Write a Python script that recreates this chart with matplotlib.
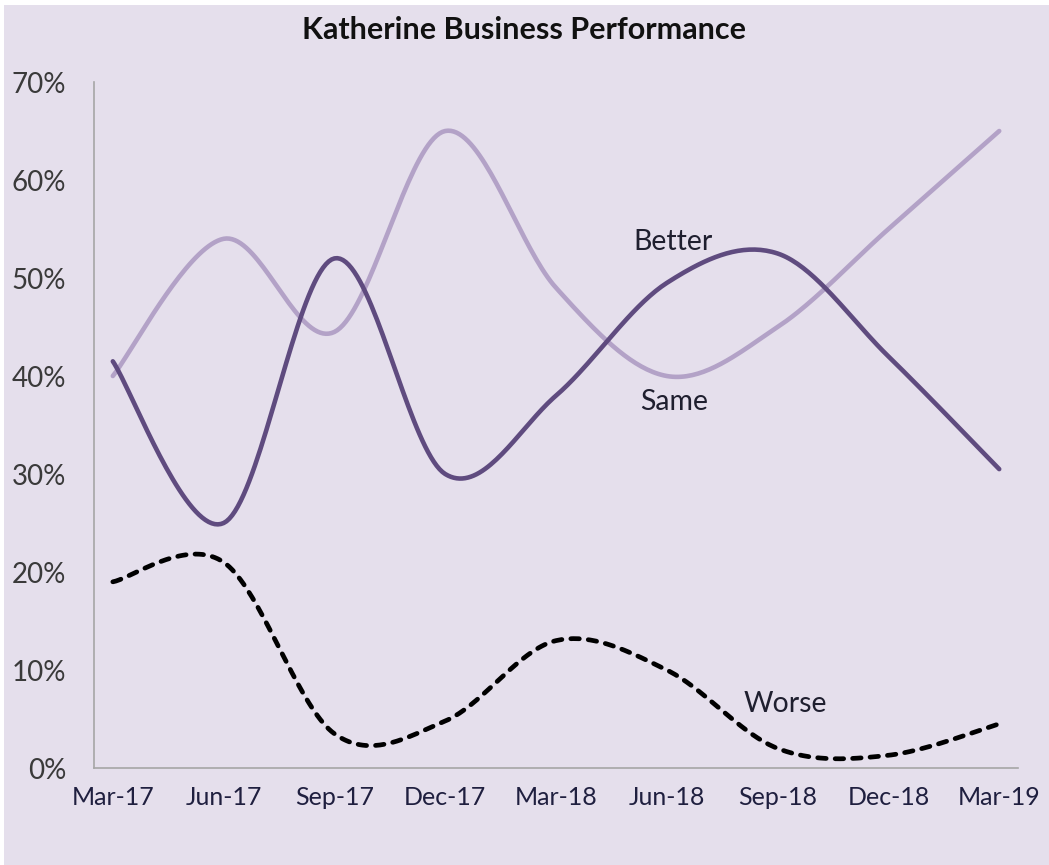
import numpy as np
import matplotlib
matplotlib.use("Agg")
import matplotlib.pyplot as plt
from matplotlib.ticker import FuncFormatter
from matplotlib.patches import Rectangle

categories = ["Mar-17", "Jun-17", "Sep-17", "Dec-17", "Mar-18", "Jun-18", "Sep-18", "Dec-18", "Mar-19"]
better = [41.5, 25.0, 52.0, 30.0, 38.0, 49.5, 52.5, 42.0, 30.5]
same = [40.0, 54.0, 44.5, 65.0, 49.0, 40.0, 45.0, 55.0, 65.0]
worse = [19.0, 21.0, 3.5, 4.8, 13.0, 10.0, 2.0, 1.3, 4.5]

BG = "#E5DFEC"

plt.rcParams['font.family'] = ['Lato', 'DejaVu Sans']


def smooth(xs, ys, n=40):
    # Excel-style smoothing: cubic Bezier with Catmull-Rom control points
    xs = np.asarray(xs, float)
    ys = np.asarray(ys, float)
    px, py = [], []
    m = len(xs)
    for i in range(m - 1):
        x0, y0 = (xs[i - 1], ys[i - 1]) if i > 0 else (xs[i], ys[i])
        x1, y1 = xs[i], ys[i]
        x2, y2 = xs[i + 1], ys[i + 1]
        x3, y3 = (xs[i + 2], ys[i + 2]) if i + 2 < m else (xs[i + 1], ys[i + 1])
        c1x, c1y = x1 + (x2 - x0) / 6, y1 + (y2 - y0) / 6
        c2x, c2y = x2 - (x3 - x1) / 6, y2 - (y3 - y1) / 6
        t = np.linspace(0, 1, n)
        bx = (1 - t) ** 3 * x1 + 3 * (1 - t) ** 2 * t * c1x + 3 * (1 - t) * t ** 2 * c2x + t ** 3 * x2
        by = (1 - t) ** 3 * y1 + 3 * (1 - t) ** 2 * t * c1y + 3 * (1 - t) * t ** 2 * c2y + t ** 3 * y2
        if i > 0:
            bx, by = bx[1:], by[1:]
        px.extend(bx)
        py.extend(by)
    return np.array(px), np.array(py)


fig = plt.figure(figsize=(10.49, 8.65), dpi=100, facecolor=BG)
# thin white margin at top and left, as in the reference screenshot
fig.patches.append(Rectangle((0, 1 - 5 / 865), 1, 5 / 865, transform=fig.transFigure,
                             facecolor="white", edgecolor="none", zorder=0))
fig.patches.append(Rectangle((0, 0), 4 / 1049, 1, transform=fig.transFigure,
                             facecolor="white", edgecolor="none", zorder=0))

ax = fig.add_axes([0.0896, 0.1121, 0.8809, 0.7931])
ax.set_facecolor(BG)

x = np.arange(len(categories))
sx, sy = smooth(x, same)
ax.plot(sx, sy, color="#B3A2C7", lw=3.3, solid_capstyle="round", zorder=2)
bx, by = smooth(x, better)
ax.plot(bx, by, color="#5F4B7F", lw=3.3, solid_capstyle="round", zorder=3)
wx, wy = smooth(x, worse)
ax.plot(wx, wy, color="black", lw=3.4, dashes=(1.8, 1.9), dash_capstyle="round", zorder=3)

ax.set_xlim(-0.17, 8.17)
ax.set_ylim(0, 70)
ax.set_yticks(np.arange(0, 71, 10))
ax.yaxis.set_major_formatter(FuncFormatter(lambda v, p: f"{v:.0f}%"))
ax.set_xticks(x)
ax.set_xticklabels(categories)

for s in ["top", "right"]:
    ax.spines[s].set_visible(False)
for s in ["left", "bottom"]:
    ax.spines[s].set_color("#A6A6A6")
    ax.spines[s].set_linewidth(1.2)

ax.tick_params(axis="y", length=0, pad=20, labelsize=20, labelcolor="#3A3A3A")
ax.tick_params(axis="x", length=0, pad=13, labelsize=18, labelcolor="#1F1F3F")

ax.text(5.06, 53.7, "Better", fontsize=20.5, color="#1F1F2F", ha="center", va="center")
ax.text(5.07, 37.3, "Same", fontsize=20.5, color="#1F1F2F", ha="center", va="center")
ax.text(6.07, 6.5, "Worse", fontsize=20.5, color="#1F1F2F", ha="center", va="center")

fig.text(0.4995, 0.9653, "Katherine Business Performance", fontsize=22, fontweight="bold",
         color="#111111", ha="center", va="center")

fig.savefig("out.png", dpi=100, facecolor=BG)
